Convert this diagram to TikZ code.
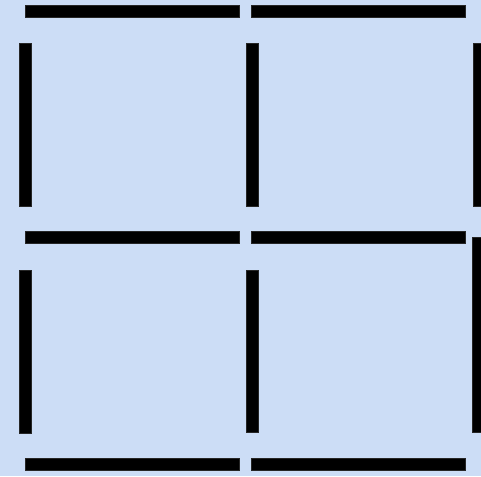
\documentclass[tikz,border=0pt]{standalone}
\usetikzlibrary{positioning}
\definecolor{paper}{HTML}{CCDDF6}
\definecolor{matchblk}{HTML}{000000}
\tikzset{
  stick/.style={fill=matchblk, draw=matchblk!70!gray, line width=0.3pt}
}

\begin{document}
\begin{tikzpicture}[x=1pt, y=-1pt]

% Background
\fill[paper] (0,0) rectangle (481,476);
\useasboundingbox (0,0) rectangle (481,476);

% Horizontal sticks: top, middle, bottom rows
\foreach \y in {5,231,458} {
  \fill[stick] (25,\y) rectangle (239,\y+12);
  \fill[stick] (251,\y) rectangle (465,\y+12);
}

% Vertical sticks: upper row
\fill[stick] (19,43) rectangle (31,206);
\fill[stick] (246,43) rectangle (258,206);
\fill[stick] (473,43) rectangle (485,206);

% Vertical sticks: lower row
\fill[stick] (19,270) rectangle (31,433);
\fill[stick] (246,270) rectangle (258,432);
\fill[stick] (472,237) rectangle (484,432);

\end{tikzpicture}
\end{document}
